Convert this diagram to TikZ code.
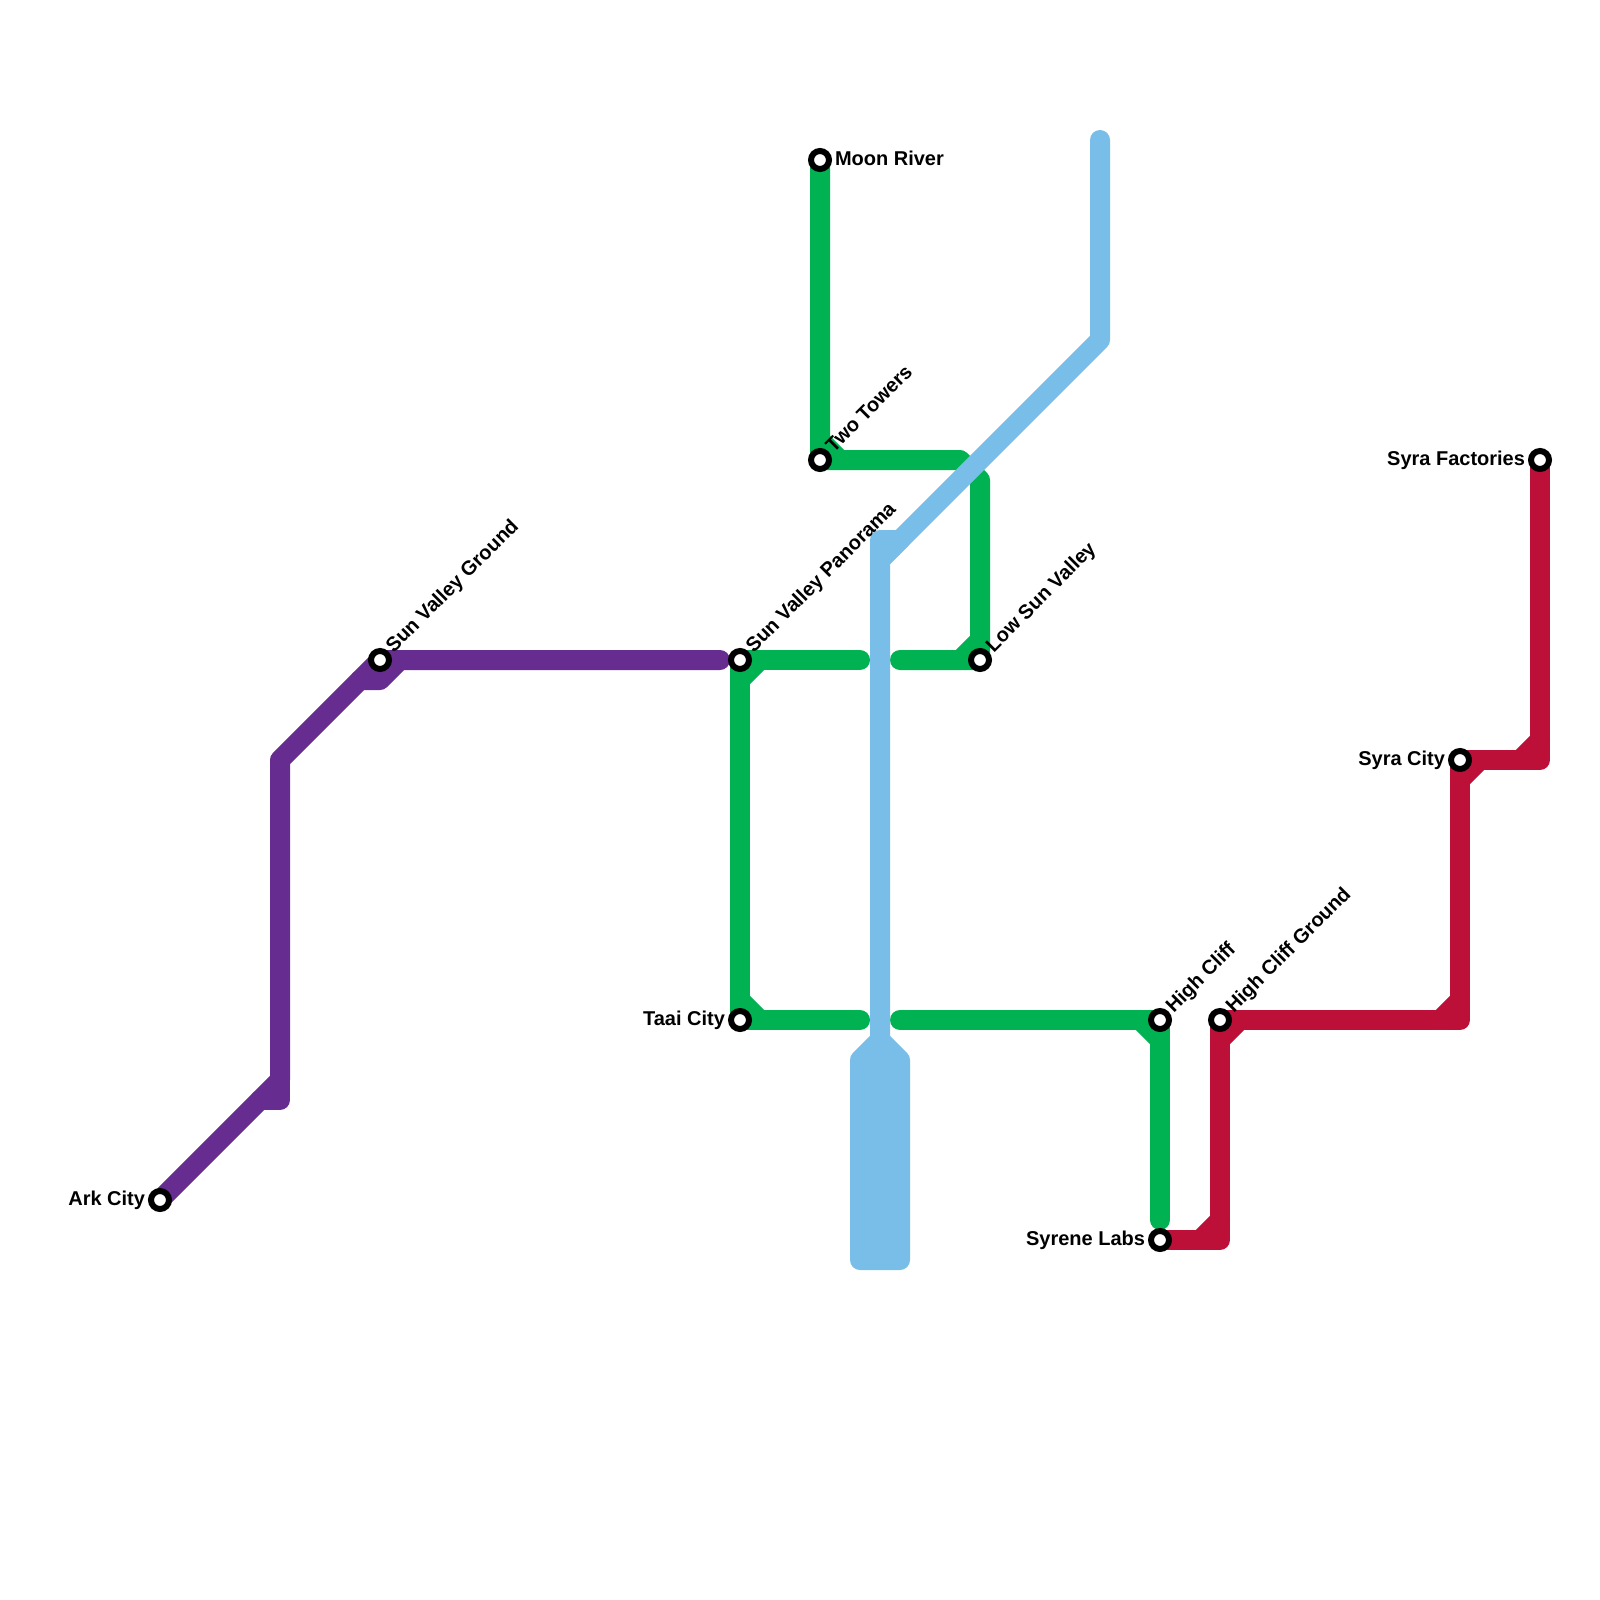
\documentclass[tikz,border=0pt]{standalone}
\usepackage{fontspec}
\setmainfont{Liberation Sans}
\definecolor{mgreen}{HTML}{00B251}
\definecolor{mred}{HTML}{BD1038}
\definecolor{mpurple}{HTML}{662C90}
\definecolor{mblue}{HTML}{79BDE9}
\tikzset{
  metro/.style={line width=20pt,line cap=round,line join=round},
  stn/.style={circle,draw=black,line width=6pt,fill=white,minimum size=18pt,inner sep=0pt,outer sep=0pt},
  lbl/.style={font=\fontsize{20}{24}\selectfont\bfseries,text=black,inner sep=0pt,outer sep=0pt},
  lblr/.style={lbl,anchor=base west},
  lbll/.style={lbl,anchor=base east},
  lbld/.style={lbl,anchor=base west,rotate=45}
}
\begin{document}
\begin{tikzpicture}[x=1pt,y=-1pt]
\useasboundingbox (0,0) rectangle (1600,1600);
% stations (positions)
\coordinate (ark) at (160,1200);
\coordinate (svg) at (380,660);
\coordinate (svp) at (740,660);
\coordinate (taai) at (740,1020);
\coordinate (moon) at (820,160);
\coordinate (two) at (820,460);
\coordinate (low) at (980,660);
\coordinate (high) at (1160,1020);
\coordinate (hcg) at (1220,1020);
\coordinate (syrene) at (1160,1240);
\coordinate (syra) at (1460,760);
\coordinate (fact) at (1540,460);
% green line
\coordinate (g1) at (960,460);
\coordinate (g2) at (980,480);
\coordinate (g3) at (900,660);
\coordinate (g4) at (860,660);
\coordinate (g5) at (860,1020);
\coordinate (g6) at (900,1020);
\coordinate (g7) at (1160,1220);
\draw[metro,mgreen] (moon) -- (two) -- (g1) -- (g2) -- (low) -- (g3);
\draw[metro,mgreen] (g4) -- (svp) -- (taai) -- (g5);
\draw[metro,mgreen] (g6) -- (high) -- (g7);
\coordinate (c1a) at (820,440); \coordinate (c1b) at (840,460);
\coordinate (c2a) at (960,660); \coordinate (c2b) at (980,640);
\coordinate (c3a) at (760,660); \coordinate (c3b) at (740,680);
\coordinate (c4a) at (740,1000); \coordinate (c4b) at (760,1020);
\coordinate (c5a) at (1140,1020); \coordinate (c5b) at (1160,1040);
\draw[metro,mgreen] (c1a) -- (c1b) (c2a) -- (c2b) (c3a) -- (c3b) (c4a) -- (c4b) (c5a) -- (c5b);
% red line
\coordinate (r1) at (1220,1240);
\coordinate (r2) at (1460,1020);
\coordinate (r3) at (1540,760);
\draw[metro,mred] (syrene) -- (r1) -- (hcg) -- (r2) -- (syra) -- (r3) -- (fact);
\coordinate (d1a) at (1200,1240); \coordinate (d1b) at (1220,1220);
\coordinate (d2a) at (1220,1040); \coordinate (d2b) at (1240,1020);
\coordinate (d3a) at (1440,1020); \coordinate (d3b) at (1460,1000);
\coordinate (d4a) at (1460,780); \coordinate (d4b) at (1480,760);
\coordinate (d5a) at (1520,760); \coordinate (d5b) at (1540,740);
\draw[metro,mred] (d1a) -- (d1b) (d2a) -- (d2b) (d3a) -- (d3b) (d4a) -- (d4b) (d5a) -- (d5b);
% purple line
\coordinate (p1) at (280,1080);
\coordinate (p2) at (280,760);
\coordinate (p3) at (720,660);
\draw[metro,mpurple] (ark) -- (p1) -- (p2) -- (svg) -- (p3);
\coordinate (p4) at (260,1100); \coordinate (p5) at (280,1100);
\coordinate (p6) at (360,680); \coordinate (p7) at (380,680); \coordinate (p8) at (400,660);
\draw[metro,mpurple] (p4) -- (p5) -- (p1);
\draw[metro,mpurple] (p6) -- (p7) -- (p8);
% blue line
\coordinate (b1) at (1100,140);
\coordinate (b2) at (1100,340);
\coordinate (b3) at (880,560);
\coordinate (b4) at (880,1040);
\coordinate (b5) at (880,540);
\coordinate (b6) at (900,540);
\coordinate (b7) at (860,1060);
\coordinate (b8) at (860,1260);
\coordinate (b9) at (900,1260);
\coordinate (b10) at (900,1060);
\draw[metro,mblue] (b1) -- (b2) -- (b3) -- (b4);
\draw[metro,mblue,fill=mblue] (b3) -- (b5) -- (b6) -- cycle;
\draw[metro,mblue,fill=mblue] (b4) -- (b7) -- (b8) -- (b9) -- (b10) -- cycle;
% station markers
\node[stn] (nark) at (ark) {};
\node[stn] (nsvg) at (svg) {};
\node[stn] (nsvp) at (svp) {};
\node[stn] (ntaai) at (taai) {};
\node[stn] (nmoon) at (moon) {};
\node[stn] (ntwo) at (two) {};
\node[stn] (nlow) at (low) {};
\node[stn] (nhigh) at (high) {};
\node[stn] (nhcg) at (hcg) {};
\node[stn] (nsyrene) at (syrene) {};
\node[stn] (nsyra) at (syra) {};
\node[stn] (nfact) at (fact) {};
% labels
\node[lblr] (lmoon) at ([shift={(15,5)}]moon) {Moon River};
\node[lbll] (lark) at ([shift={(-15,5)}]ark) {Ark City};
\node[lbll] (ltaai) at ([shift={(-15,5)}]taai) {Taai City};
\node[lbll] (lsyrene) at ([shift={(-15,5)}]syrene) {Syrene Labs};
\node[lbll] (lsyra) at ([shift={(-15,5)}]syra) {Syra City};
\node[lbll] (lfact) at ([shift={(-15,5)}]fact) {Syra Factories};
\node[lbld] (lsvg) at ([shift={(13.8,-6.8)}]svg) {Sun Valley Ground};
\node[lbld] (lsvp) at ([shift={(13.8,-6.8)}]svp) {Sun Valley Panorama};
\node[lbld] (ltwo) at ([shift={(13.8,-6.8)}]two) {Two Towers};
\node[lbld] (llow) at ([shift={(13.8,-6.8)}]low) {Low Sun Valley};
\node[lbld] (lhigh) at ([shift={(13.8,-6.8)}]high) {High Cliff};
\node[lbld] (lhcg) at ([shift={(13.8,-6.8)}]hcg) {High Cliff Ground};
\end{tikzpicture}
\end{document}
